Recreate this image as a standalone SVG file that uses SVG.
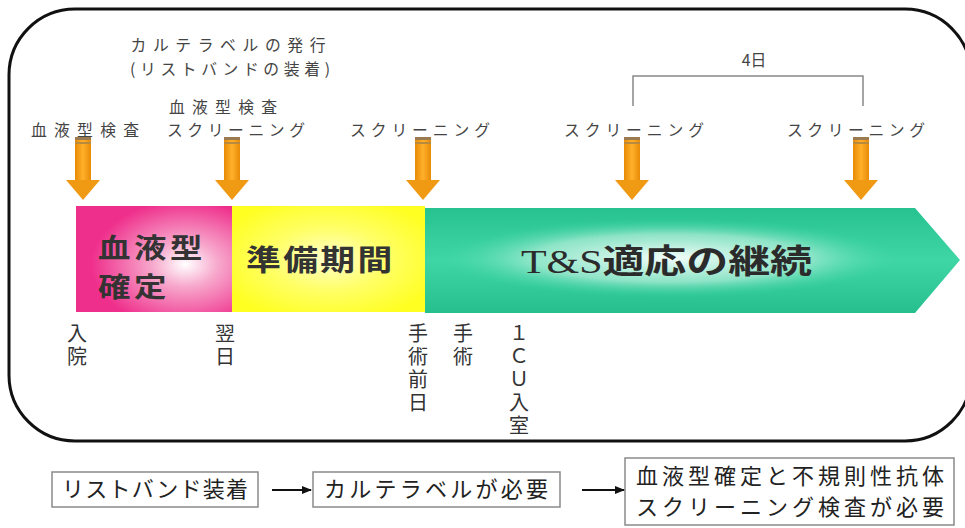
<svg xmlns="http://www.w3.org/2000/svg" width="965" height="528" viewBox="0 0 965 528">
<style>
  .lbl { font-family: "Noto Sans CJK JP", "Noto Sans", sans-serif; fill: #444; font-size: 15.8px; }
  .vt { font-family: "Noto Sans CJK JP", "Noto Sans", sans-serif; fill: #333; font-size: 20px; writing-mode: vertical-rl; text-orientation: upright; letter-spacing: 3px; }
  .bar { font-family: "Noto Sans CJK JP", "Noto Sans", sans-serif; fill: #333; font-weight: 700; }
  .box { fill: #fff; stroke: #8a8a8a; stroke-width: 1.5; }
  .btx { font-family: "Noto Sans CJK JP", "Noto Sans", sans-serif; fill: #222; font-size: 22px; }
  .conn { stroke: #111; stroke-width: 2; fill: none; }
  .brk { stroke: #888; stroke-width: 1.5; fill: none; }
</style>
<defs>
  <linearGradient id="shaft" x1="0" y1="0" x2="1" y2="0">
    <stop offset="0" stop-color="#e88a06"/>
    <stop offset="0.5" stop-color="#ffb02a"/>
    <stop offset="1" stop-color="#e88a06"/>
  </linearGradient>
  <radialGradient id="pinkG" cx="0.7" cy="0.55" r="0.6">
    <stop offset="0" stop-color="#ffffff"/>
    <stop offset="0.35" stop-color="#f7a8cc"/>
    <stop offset="1" stop-color="#ef2f8c"/>
  </radialGradient>
  <radialGradient id="yellowG" cx="0.5" cy="0.5" r="0.6">
    <stop offset="0" stop-color="#ffffcc"/>
    <stop offset="0.5" stop-color="#ffff66"/>
    <stop offset="1" stop-color="#ffff22"/>
  </radialGradient>
  <linearGradient id="greenV" x1="0" y1="0" x2="0" y2="1">
    <stop offset="0" stop-color="#27c28f"/>
    <stop offset="0.5" stop-color="#3fd6a6"/>
    <stop offset="1" stop-color="#25bf8c"/>
  </linearGradient>
  <radialGradient id="greenGlow" cx="0.5" cy="0.5" r="0.5">
    <stop offset="0" stop-color="#ffffff" stop-opacity="0.95"/>
    <stop offset="0.6" stop-color="#c8f2e2" stop-opacity="0.6"/>
    <stop offset="1" stop-color="#3fd6a6" stop-opacity="0"/>
  </radialGradient>
  <marker id="ah" markerWidth="10" markerHeight="8" refX="9" refY="4" orient="auto" markerUnits="userSpaceOnUse">
    <path d="M0,0 L10,4 L0,8 Z" fill="#111"/>
  </marker>
  <g id="darrow">
    <rect x="-8" y="0" width="16" height="44" fill="url(#shaft)"/>
    <rect x="-8" y="0" width="16" height="3" fill="#9a7a50"/>
    <rect x="-8" y="5" width="16" height="2" fill="#b88a40"/>
    <path d="M-17,43 L17,43 L0,63 Z" fill="#f09a14"/>
  </g>
</defs>

<rect width="965" height="528" fill="#fff"/>

<g id="frame">
  <rect x="9" y="9" width="962" height="432" rx="66" ry="66" fill="none" stroke="#111" stroke-width="3"/>
</g>

<g id="bar-blood">
  <rect x="76" y="206" width="156" height="106" fill="url(#pinkG)"/>
  <text class="bar" transform="matrix(1.2,0,0,1,98,258)" x="0" y="0" font-size="27" letter-spacing="3">血液型</text>
  <text class="bar" transform="matrix(1.2,0,0,1,98,297)" x="0" y="0" font-size="27" letter-spacing="3">確定</text>
</g>
<g id="bar-prep">
  <rect x="232" y="206" width="193" height="106" fill="url(#yellowG)"/>
  <text class="bar" transform="matrix(1.2,0,0,1,246,271)" x="0" y="0" font-size="29" letter-spacing="2">準備期間</text>
</g>
<g id="bar-ts">
  <path d="M425,208 L915,208 L960,260 L915,313 L425,313 Z" fill="url(#greenV)"/>
  <ellipse cx="670" cy="258" rx="230" ry="40" fill="url(#greenGlow)"/>
  <text transform="matrix(1.27,0,0,1,521,273)" x="0" y="0" font-size="33" fill="#2b2b2b" font-family="'Liberation Serif', 'Noto Sans CJK JP', serif">T&amp;S<tspan font-family="'Noto Sans CJK JP', sans-serif" font-weight="600">適応の継続</tspan></text>
</g>

<g id="arrows">
  <use href="#darrow" x="83" y="137"/>
  <use href="#darrow" x="232" y="137"/>
  <use href="#darrow" x="423" y="137"/>
  <use href="#darrow" x="632" y="137"/>
  <use href="#darrow" x="861" y="137"/>
</g>

<g id="top-labels">
  <text class="lbl" x="228" y="51" text-anchor="middle" textLength="195" lengthAdjust="spacing">カルテラベルの発行</text>
  <text class="lbl" x="230" y="75" text-anchor="middle" textLength="200" lengthAdjust="spacing">(リストバンドの装着)</text>
  <text class="lbl" x="223" y="113" text-anchor="middle" textLength="108" lengthAdjust="spacing">血液型検査</text>
  <text class="lbl" x="236" y="136" text-anchor="middle" textLength="138" lengthAdjust="spacing">スクリーニング</text>
  <text class="lbl" x="85" y="136" text-anchor="middle" textLength="108" lengthAdjust="spacing">血液型検査</text>
  <text class="lbl" x="420" y="136" text-anchor="middle" textLength="140" lengthAdjust="spacing">スクリーニング</text>
  <text class="lbl" x="634" y="136" text-anchor="middle" textLength="140" lengthAdjust="spacing">スクリーニング</text>
  <text class="lbl" x="856" y="136" text-anchor="middle" textLength="138" lengthAdjust="spacing">スクリーニング</text>
  <text class="lbl" x="754" y="66" text-anchor="middle" font-size="15">4日</text>
</g>

<g id="bottom-labels">
  <text class="vt" x="77" y="323">入院</text>
  <text class="vt" x="225" y="323">翌日</text>
  <text class="vt" x="418" y="323">手術前日</text>
  <text class="vt" x="463" y="323">手術</text>
  <text class="vt" x="519" y="323">１ＣＵ入室</text>
</g>

<g id="box-wrist">
  <rect class="box" x="52" y="472" width="206" height="35"/>
  <text class="btx" x="155" y="497" text-anchor="middle" textLength="186" lengthAdjust="spacing">リストバンド装着</text>
</g>
<g id="box-label">
  <rect class="box" x="313" y="472" width="247" height="35"/>
  <text class="btx" x="436" y="497" text-anchor="middle" textLength="224" lengthAdjust="spacing">カルテラベルが必要</text>
</g>
<g id="box-test">
  <rect class="box" x="625" y="458" width="329" height="67"/>
  <text class="btx" x="790" y="484" text-anchor="middle" textLength="308" lengthAdjust="spacing">血液型確定と不規則性抗体</text>
  <text class="btx" x="790" y="515" text-anchor="middle" textLength="308" lengthAdjust="spacing">スクリーニング検査が必要</text>
</g>

<g id="connectors">
  <line class="conn" x1="272" y1="490" x2="311" y2="490" marker-end="url(#ah)"/>
  <line class="conn" x1="582" y1="490" x2="624" y2="490" marker-end="url(#ah)"/>
  <path class="brk" d="M633,106 L633,76 L863,76 L863,106"/>
</g>
</svg>
